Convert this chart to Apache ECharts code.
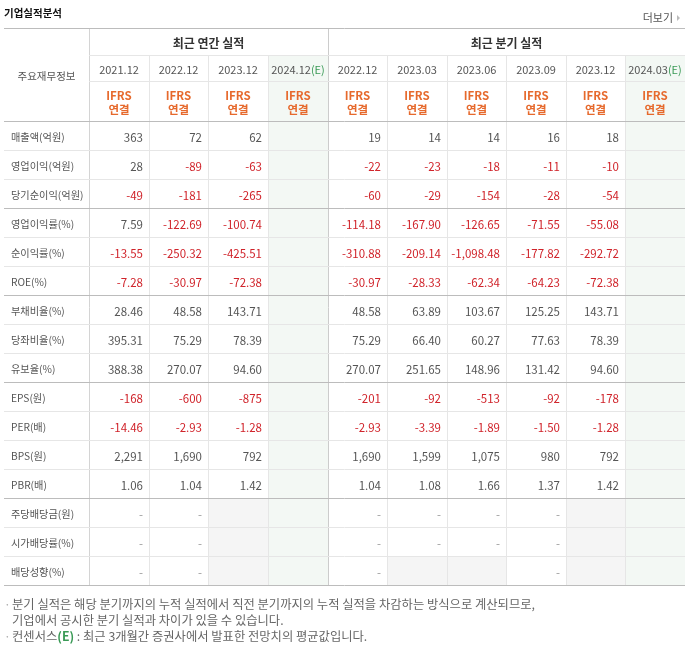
<!DOCTYPE html>
<html>
<head>
<meta charset="utf-8">
<title>기업실적분석</title>
<script src="https://cdn.jsdelivr.net/npm/echarts@6/dist/echarts.min.js"></script>
<style>
    html, body { margin: 0; padding: 0; background: #fff; }
    #main { width: 693px; height: 652px; }
</style>
</head>
<body>
<div id="main"></div>
<script>
// ---- data ----
var annualPeriods = ["2021.12", "2022.12", "2023.12", "2024.12"];
var quarterPeriods = ["2022.12", "2023.03", "2023.06", "2023.09", "2023.12", "2024.03"];
var estimateCols = [3, 9]; // (E) columns
var basisLabel = "IFRS\n연결";

var rowLabels = [
    "매출액(억원)", "영업이익(억원)", "당기순이익(억원)",
    "영업이익률(%)", "순이익률(%)", "ROE(%)",
    "부채비율(%)", "당좌비율(%)", "유보율(%)",
    "EPS(원)", "PER(배)", "BPS(원)", "PBR(배)",
    "주당배당금(원)", "시가배당률(%)", "배당성향(%)"
];
var rowDecimals = [0, 0, 0, 2, 2, 2, 2, 2, 2, 0, 2, 0, 2, 0, 2, 2];

// 4 annual + 6 quarter values; null = no value
var sales = [363, 72, 62, null, 19, 14, 14, 16, 18, null];
var operatingProfit = [28, -89, -63, null, -22, -23, -18, -11, -10, null];
var netIncome = [-49, -181, -265, null, -60, -29, -154, -28, -54, null];
var operatingMargin = [7.59, -122.69, -100.74, null, -114.18, -167.90, -126.65, -71.55, -55.08, null];
var netMargin = [-13.55, -250.32, -425.51, null, -310.88, -209.14, -1098.48, -177.82, -292.72, null];
var roe = [-7.28, -30.97, -72.38, null, -30.97, -28.33, -62.34, -64.23, -72.38, null];
var debtRatio = [28.46, 48.58, 143.71, null, 48.58, 63.89, 103.67, 125.25, 143.71, null];
var quickRatio = [395.31, 75.29, 78.39, null, 75.29, 66.40, 60.27, 77.63, 78.39, null];
var reserveRatio = [388.38, 270.07, 94.60, null, 270.07, 251.65, 148.96, 131.42, 94.60, null];
var eps = [-168, -600, -875, null, -201, -92, -513, -92, -178, null];
var per = [-14.46, -2.93, -1.28, null, -2.93, -3.39, -1.89, -1.50, -1.28, null];
var bps = [2291, 1690, 792, null, 1690, 1599, 1075, 980, 792, null];
var pbr = [1.06, 1.04, 1.42, null, 1.04, 1.08, 1.66, 1.37, 1.42, null];
var dps = ["-", "-", null, null, "-", "-", "-", "-", null, null];
var dividendYield = ["-", "-", null, null, "-", "-", "-", "-", null, null];
var payoutRatio = ["-", "-", null, null, "-", null, null, "-", null, null];

var tableRows = [sales, operatingProfit, netIncome, operatingMargin, netMargin, roe,
    debtRatio, quickRatio, reserveRatio, eps, per, bps, pbr, dps, dividendYield, payoutRatio];
var groupEnds = [2, 5, 8, 12, 15]; // thicker line under these rows

var notes = [
    "분기 실적은 해당 분기까지의 누적 실적에서 직전 분기까지의 누적 실적을 차감하는 방식으로 계산되므로,",
    "기업에서 공시한 분기 실적과 차이가 있을 수 있습니다.",
    "컨센서스{e|(E)} : 최근 3개월간 증권사에서 발표한 전망치의 평균값입니다."
];

// ---- layout (axis units) ----
var FONT = '"Noto Sans CJK KR", "Noto Sans", sans-serif';
var LABEL_W = 1.43;              // label column, in data-column widths
var HEAD_H = [0.93, 0.9, 1.38];   // header rows, in data-row heights
var HEAD_TOTAL = HEAD_H[0] + HEAD_H[1] + HEAD_H[2];
var NCOL = annualPeriods.length + quarterPeriods.length;
var NROW = rowLabels.length;
var GREEN_BG = "#f3f8f4";
var GREY_BG = "#f5f5f5";
var LIGHT = "#e6e6e6";
var DARK = "#bcbcbc";

function colX(c) {
    return c === 0 ? 0 : LABEL_W + c - 1;
}
function rowY(r) {
    if (r <= 3) {
        var y = 0;
        for (var i = 0; i < r; i++) y += HEAD_H[i];
        return y;
    }
    return HEAD_TOTAL + r - 3;
}
function fmt(v, d) {
    return v.toLocaleString("en-US", { minimumFractionDigits: d, maximumFractionDigits: d });
}

// ---- cells ----
var cells = [];
cells.push({ c0: 0, c1: 0, r0: 0, r1: 2, text: "주요재무정보", align: "center", font: "10.5px " + FONT, color: "#555" });
cells.push({ c0: 1, c1: 4, r0: 0, r1: 0, text: "최근 연간 실적", align: "center", font: "bold 12px " + FONT, color: "#333" });
cells.push({ c0: 5, c1: 10, r0: 0, r1: 0, text: "최근 분기 실적", align: "center", font: "bold 12px " + FONT, color: "#333" });

annualPeriods.concat(quarterPeriods).forEach(function (p, j) {
    var est = estimateCols.indexOf(j) >= 0;
    cells.push({
        c0: j + 1, c1: j + 1, r0: 1, r1: 1,
        text: est ? p + "{e|(E)}" : p,
        align: "center", font: "11px " + FONT, color: "#555",
        bg: est ? GREEN_BG : null
    });
    cells.push({
        c0: j + 1, c1: j + 1, r0: 2, r1: 2,
        text: basisLabel, align: "center", font: "bold 11.5px " + FONT, color: "#e6692c",
        lineHeight: 14, bg: est ? GREEN_BG : null
    });
});

tableRows.forEach(function (vals, i) {
    var r = i + 3;
    cells.push({ c0: 0, c1: 0, r0: r, r1: r, text: rowLabels[i], align: "left", font: "10.2px " + FONT, color: "#555" });
    vals.forEach(function (v, j) {
        var est = estimateCols.indexOf(j) >= 0;
        var cell = { c0: j + 1, c1: j + 1, r0: r, r1: r, align: "right", font: "11.5px " + FONT };
        if (v === null) {
            cell.text = "";
            cell.bg = est ? GREEN_BG : GREY_BG;
        } else if (v === "-") {
            cell.text = "-";
            cell.color = "#999";
        } else {
            cell.text = fmt(v, rowDecimals[i]);
            cell.color = v < 0 ? "#d0232a" : "#555";
        }
        if (est) cell.bg = GREEN_BG;
        cells.push(cell);
    });
});

function renderCell(params, api) {
    var d = cells[params.dataIndex];
    var p0 = api.coord([colX(d.c0), rowY(d.r0)]);
    var p1 = api.coord([colX(d.c1 + 1), rowY(d.r1 + 1)]);
    var x0 = Math.round(p0[0]), y0 = Math.round(p0[1]);
    var x1 = Math.round(p1[0]), y1 = Math.round(p1[1]);
    var children = [];
    if (d.bg) {
        children.push({ type: "rect", shape: { x: x0, y: y0, width: x1 - x0, height: y1 - y0 }, style: { fill: d.bg } });
    }
    if (d.text) {
        var tx = d.align === "right" ? x1 - 6 : d.align === "left" ? x0 + 7 : (x0 + x1) / 2;
        children.push({
            type: "text",
            style: {
                text: d.text, x: tx, y: (y0 + y1) / 2 + 1,
                align: d.align, verticalAlign: "middle",
                font: d.font, fill: d.color, lineHeight: d.lineHeight,
                rich: { e: { fill: "#3a9a56", font: d.font } }
            }
        });
    }
    return { type: "group", children: children };
}

function renderLines(params, api) {
    var children = [];
    function hline(r, c0, c1, color) {
        var a = api.coord([colX(c0), rowY(r)]);
        var b = api.coord([colX(c1), rowY(r)]);
        var y = Math.round(a[1]) - 0.5;
        children.push({ type: "line", shape: { x1: Math.round(a[0]), y1: y, x2: Math.round(b[0]), y2: y }, style: { stroke: color, lineWidth: 1 } });
    }
    function vline(c, r0, r1, color) {
        var a = api.coord([colX(c), rowY(r0)]);
        var b = api.coord([colX(c), rowY(r1)]);
        var x = Math.round(a[0]) + 0.5;
        children.push({ type: "line", shape: { x1: x, y1: Math.round(a[1]), x2: x, y2: Math.round(b[1]) }, style: { stroke: color, lineWidth: 1 } });
    }
    for (var c = 2; c <= NCOL; c++) {
        if (c !== 5) vline(c, 1, NROW + 3, LIGHT);
    }
    vline(1, 0, NROW + 3, "#d4d4d4");
    vline(5, 0, NROW + 3, "#cccccc");
    hline(1, 1, NCOL + 1, LIGHT);
    hline(2, 1, NCOL + 1, LIGHT);
    for (var i = 0; i < NROW; i++) {
        if (groupEnds.indexOf(i) < 0) hline(i + 4, 0, NCOL + 1, LIGHT);
    }
    hline(0, 0, NCOL + 1, DARK);
    hline(3, 0, NCOL + 1, DARK);
    groupEnds.forEach(function (i) {
        hline(i + 4, 0, NCOL + 1, DARK);
    });
    return { type: "group", children: children };
}

// ---- chart ----
var chart = echarts.init(document.getElementById("main"));
chart.setOption({
    animation: false,
    backgroundColor: "#fff",
    grid: { left: 4, right: 8, top: 29, bottom: 66 },
    xAxis: { type: "value", min: 0, max: LABEL_W + NCOL, show: false },
    yAxis: { type: "value", min: 0, max: HEAD_TOTAL + NROW, inverse: true, show: false },
    graphic: [
        { type: "text", x: 4, y: 13, style: { text: "기업실적분석", font: "bold 10.5px " + FONT, fill: "#111", verticalAlign: "middle" } },
        { type: "text", x: 673, y: 18, style: { text: "더보기", font: "11px " + FONT, fill: "#555", align: "right", verticalAlign: "middle" } },
        { type: "polygon", shape: { points: [[677, 15], [680, 18], [677, 21]] }, style: { fill: "#bbb" } },
        { type: "text", x: 4, y: 604, style: { text: "·", font: "12px " + FONT, fill: "#aaa", verticalAlign: "middle" } },
        { type: "text", x: 12, y: 604, style: { text: notes[0], font: "12.3px " + FONT, fill: "#666", verticalAlign: "middle" } },
        { type: "text", x: 12, y: 620, style: { text: notes[1], font: "12.3px " + FONT, fill: "#666", verticalAlign: "middle" } },
        { type: "text", x: 4, y: 636, style: { text: "·", font: "12px " + FONT, fill: "#aaa", verticalAlign: "middle" } },
        {
            type: "text", x: 12, y: 636,
            style: {
                text: notes[2], font: "12.3px " + FONT, fill: "#666", verticalAlign: "middle",
                rich: { e: { fill: "#3a9a56", font: "bold 12.3px " + FONT } }
            }
        }
    ],
    series: [
        {
            type: "custom",
            name: "cells",
            silent: true,
            renderItem: renderCell,
            data: cells.map(function (d) {
                return [(colX(d.c0) + colX(d.c1 + 1)) / 2, (rowY(d.r0) + rowY(d.r1 + 1)) / 2];
            })
        },
        {
            type: "custom",
            name: "lines",
            silent: true,
            renderItem: renderLines,
            data: [[0, 0]],
            z: 3
        }
    ]
});
</script>
</body>
</html>
